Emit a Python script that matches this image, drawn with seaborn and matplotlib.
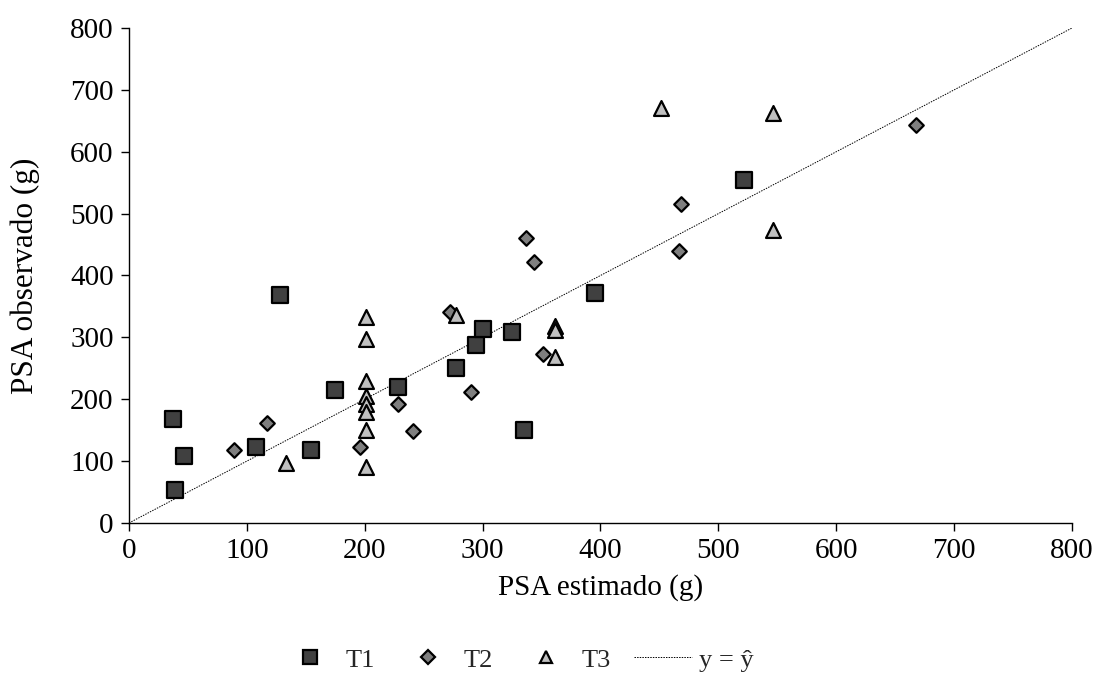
import matplotlib
matplotlib.use("Agg")
import matplotlib.pyplot as plt
from matplotlib.lines import Line2D
import numpy as np
import pandas as pd
import seaborn as sns

# Estimated vs. observed shoot dry mass per treatment
t1_est = [37, 47, 39, 108, 154, 128, 175, 228, 277, 294, 300, 325, 335, 395, 522]
t1_obs = [168, 109, 53, 123, 118, 368, 215, 219, 250, 288, 313, 309, 150, 371, 554]

t2_est = [89, 117, 196, 228, 241, 272, 290, 337, 344, 351, 467, 468, 668]
t2_obs = [118, 162, 123, 192, 148, 341, 211, 460, 421, 273, 440, 516, 643]

t3_est = [133, 201, 201, 201, 201, 201, 201, 201, 201, 277, 361, 361, 361, 451, 546, 546]
t3_obs = [97, 333, 298, 229, 206, 193, 180, 150, 91, 336, 318, 312, 269, 670, 662, 473]

groups = ["T1", "T2", "T3"]
x_ticks = [0, 100, 200, 300, 400, 500, 600, 700, 800]
y_ticks = [0, 100, 200, 300, 400, 500, 600, 700, 800]

df = pd.concat([
    pd.DataFrame({"est": t1_est, "obs": t1_obs, "trat": "T1"}),
    pd.DataFrame({"est": t2_est, "obs": t2_obs, "trat": "T2"}),
    pd.DataFrame({"est": t3_est, "obs": t3_obs, "trat": "T3"}),
], ignore_index=True)

sns.set_theme(style="white")
plt.rcParams["font.family"] = ["Liberation Serif", "DejaVu Serif"]

fills = {"T1": "#404040", "T2": "#7f7f7f", "T3": "#c0c0c0"}
markers = {"T1": "s", "T2": "D", "T3": "^"}
sizes = {"T1": 125, "T2": 55, "T3": 115}

fig = plt.figure(figsize=(10.96, 6.83), dpi=100)
ax = fig.add_axes([0.1177, 0.2343, 0.8604, 0.7247])

# 1:1 reference line
ax.plot([0, 800], [0, 800], color="black", lw=0.7, ls=(0, (1.5, 1.2)), zorder=1)

for g in groups:
    sub = df[df["trat"] == g]
    sns.scatterplot(data=sub, x="est", y="obs", marker=markers[g], s=sizes[g],
                    color=fills[g], edgecolor="black", linewidth=1.6,
                    ax=ax, legend=False, zorder=3)

ax.set_xlim(0, 800)
ax.set_ylim(0, 800)
ax.set_xticks(x_ticks)
ax.set_yticks(y_ticks)
ax.tick_params(axis="both", direction="out", length=6, width=1, color="black",
               labelsize=21, labelcolor="black", bottom=True, left=True, pad=5)
for side in ["top", "right"]:
    ax.spines[side].set_visible(False)
for side in ["left", "bottom"]:
    ax.spines[side].set_color("black")
    ax.spines[side].set_linewidth(1)

ax.set_xlabel("PSA estimado (g)", fontsize=21, color="black", labelpad=7)
ax.set_ylabel("PSA observado (g)", fontsize=22.5, color="black", labelpad=22)

handles = [
    Line2D([], [], ls="none", marker="s", markersize=10, markerfacecolor=fills["T1"],
           markeredgecolor="black", markeredgewidth=1.6, label="T1"),
    Line2D([], [], ls="none", marker="D", markersize=7, markerfacecolor=fills["T2"],
           markeredgecolor="black", markeredgewidth=1.6, label="T2"),
    Line2D([], [], ls="none", marker="^", markersize=9, markerfacecolor=fills["T3"],
           markeredgecolor="black", markeredgewidth=1.6, label="T3"),
    Line2D([], [], color="black", lw=0.7, ls=(0, (1.5, 1.2)), label="y = ŷ"),
]
fig.legend(handles=handles, loc="center", bbox_to_anchor=(0.472, 0.034), ncol=4,
           frameon=False, fontsize=19, handlelength=2.2, columnspacing=0.9,
           handletextpad=0.25)

fig.savefig("out.png", dpi=100)
